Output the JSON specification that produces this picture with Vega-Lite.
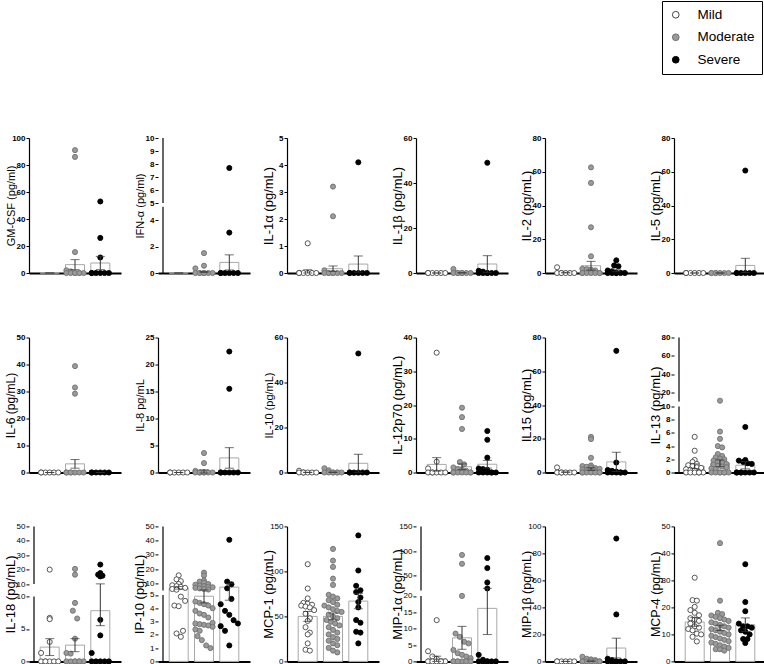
{
"$schema":"https://vega.github.io/schema/vega-lite/v6.json",
"padding":{"left":3,"top":0,"right":0,"bottom":0},
"config":{
 "font":"Liberation Sans",
 "view":{"stroke":null},
 "axis":{"grid":false},
 "axisX":{"domainColor":"black","domainWidth":2,"ticks":false,"labels":false},
 "axisY":{"domainColor":"black","domainWidth":1.2,"tickColor":"black","tickSize":3,"tickWidth":1,"labelFontSize":8,"labelFontWeight":"bold","labelColor":"black","labelPadding":1,"labelOverlap":false,"titleFontWeight":"normal","titleColor":"black","titleX":-15,"titleY":67.5,"titleAngle":270,"titleAlign":"center","titleBaseline":"alphabetic","titleFontSize":12},
 "legend":{"orient":"none","legendX":633,"legendY":-137,"strokeColor":"black","padding":7,"labelFontSize":13.5,"labelColor":"black","symbolSize":45,"symbolStrokeWidth":1,"rowPadding":7.5,"labelOffset":15,"symbolType":"circle"}
},
"datasets":{"d":[
{"k":1,"g":1,"v":0,"e":0},{"k":1,"g":2,"v":6.2,"e":3.7},{"k":1,"g":3,"v":7.4,"e":4.9},
{"k":2,"g":1,"v":0,"e":0},{"k":2,"g":2,"v":0.07,"e":0.04},{"k":2,"g":3,"v":0.8,"e":0.57},
{"k":3,"g":1,"v":0.06,"e":0.06},{"k":3,"g":2,"v":0.16,"e":0.1},{"k":3,"g":3,"v":0.33,"e":0.3},
{"k":4,"g":1,"v":0,"e":0},{"k":4,"g":2,"v":0.06,"e":0.05},{"k":4,"g":3,"v":4.0,"e":3.7},
{"k":5,"g":1,"v":0.2,"e":0.2},{"k":5,"g":2,"v":4.3,"e":2.6},{"k":5,"g":3,"v":1.5,"e":0.75},
{"k":6,"g":1,"v":0,"e":0},{"k":6,"g":2,"v":0,"e":0},{"k":6,"g":3,"v":4.5,"e":4.2},
{"k":7,"g":1,"v":0,"e":0},{"k":7,"g":2,"v":3.2,"e":1.6},{"k":7,"g":3,"v":0,"e":0},
{"k":8,"g":1,"v":0,"e":0},{"k":8,"g":2,"v":0.2,"e":0.3},{"k":8,"g":3,"v":2.7,"e":1.9},
{"k":9,"g":1,"v":0.05,"e":0.05},{"k":9,"g":2,"v":0.1,"e":0.06},{"k":9,"g":3,"v":4.1,"e":4.0},
{"k":10,"g":1,"v":2.4,"e":2.0},{"k":10,"g":2,"v":1.7,"e":0.85},{"k":10,"g":3,"v":2.45,"e":1.15},
{"k":11,"g":1,"v":0.2,"e":0.17},{"k":11,"g":2,"v":2.1,"e":0.8},{"k":11,"g":3,"v":6.3,"e":5.7},
{"k":12,"g":1,"v":0.96,"e":0.35},{"k":12,"g":2,"v":1.4,"e":0.5},{"k":12,"g":3,"v":1.1,"e":0.55},
{"k":13,"g":1,"v":2.2,"e":1.3},{"k":13,"g":2,"v":2.5,"e":1.0},{"k":13,"g":3,"v":7.8,"e":2.3},
{"k":14,"g":1,"v":6.8,"e":0.9},{"k":14,"g":2,"v":4.9,"e":0.5},{"k":14,"g":3,"v":7.3,"e":2.7},
{"k":15,"g":1,"v":50,"e":5.5},{"k":15,"g":2,"v":50,"e":3.8},{"k":15,"g":3,"v":67,"e":8.5},
{"k":16,"g":1,"v":0.8,"e":0.8},{"k":16,"g":2,"v":7.2,"e":3.5},{"k":16,"g":3,"v":16.2,"e":8.0},
{"k":17,"g":1,"v":0,"e":0},{"k":17,"g":2,"v":0.2,"e":0.1},{"k":17,"g":3,"v":9.9,"e":7.3},
{"k":18,"g":1,"v":14.6,"e":1.6},{"k":18,"g":2,"v":12.4,"e":1.0},{"k":18,"g":3,"v":13.6,"e":2.5},

{"k":1,"g":2,"v":91},{"k":1,"g":2,"v":86},{"k":1,"g":2,"v":15.5},{"k":1,"g":2,"v":2},{"k":1,"g":2,"v":1.2},{"k":1,"g":2,"v":0},{"k":1,"g":2,"v":0},{"k":1,"g":2,"v":0},{"k":1,"g":2,"v":0},{"k":1,"g":2,"v":0},{"k":1,"g":2,"v":0},{"k":1,"g":2,"v":0},
{"k":1,"g":3,"v":53},{"k":1,"g":3,"v":26},{"k":1,"g":3,"v":11.5},{"k":1,"g":3,"v":0},{"k":1,"g":3,"v":0},{"k":1,"g":3,"v":0},{"k":1,"g":3,"v":0},{"k":1,"g":3,"v":0},{"k":1,"g":3,"v":0},

{"k":2,"g":2,"v":1.5},{"k":2,"g":2,"v":0.55},{"k":2,"g":2,"v":0.35},{"k":2,"g":2,"v":0},{"k":2,"g":2,"v":0},{"k":2,"g":2,"v":0},{"k":2,"g":2,"v":0},{"k":2,"g":2,"v":0},{"k":2,"g":2,"v":0},{"k":2,"g":2,"v":0},
{"k":2,"g":3,"v":7.7},{"k":2,"g":3,"v":3.05},{"k":2,"g":3,"v":0},{"k":2,"g":3,"v":0},{"k":2,"g":3,"v":0},{"k":2,"g":3,"v":0},{"k":2,"g":3,"v":0},{"k":2,"g":3,"v":0},

{"k":3,"g":1,"v":1.1},{"k":3,"g":1,"v":0},{"k":3,"g":1,"v":0},{"k":3,"g":1,"v":0},{"k":3,"g":1,"v":0},{"k":3,"g":1,"v":0},{"k":3,"g":1,"v":0},
{"k":3,"g":2,"v":3.2},{"k":3,"g":2,"v":2.1},{"k":3,"g":2,"v":0.1},{"k":3,"g":2,"v":0},{"k":3,"g":2,"v":0},{"k":3,"g":2,"v":0},{"k":3,"g":2,"v":0},{"k":3,"g":2,"v":0},{"k":3,"g":2,"v":0},{"k":3,"g":2,"v":0},
{"k":3,"g":3,"v":4.1},{"k":3,"g":3,"v":0},{"k":3,"g":3,"v":0},{"k":3,"g":3,"v":0},{"k":3,"g":3,"v":0},{"k":3,"g":3,"v":0},{"k":3,"g":3,"v":0},

{"k":4,"g":1,"v":0},{"k":4,"g":1,"v":0},{"k":4,"g":1,"v":0},{"k":4,"g":1,"v":0},{"k":4,"g":1,"v":0},{"k":4,"g":1,"v":0},
{"k":4,"g":2,"v":1.8},{"k":4,"g":2,"v":0},{"k":4,"g":2,"v":0},{"k":4,"g":2,"v":0},{"k":4,"g":2,"v":0},{"k":4,"g":2,"v":0},{"k":4,"g":2,"v":0},{"k":4,"g":2,"v":0},
{"k":4,"g":3,"v":49},{"k":4,"g":3,"v":1},{"k":4,"g":3,"v":0.6},{"k":4,"g":3,"v":0},{"k":4,"g":3,"v":0},{"k":4,"g":3,"v":0},{"k":4,"g":3,"v":0},{"k":4,"g":3,"v":0},{"k":4,"g":3,"v":0},

{"k":5,"g":1,"v":3.4},{"k":5,"g":1,"v":0},{"k":5,"g":1,"v":0},{"k":5,"g":1,"v":0},{"k":5,"g":1,"v":0},{"k":5,"g":1,"v":0},{"k":5,"g":1,"v":0},
{"k":5,"g":2,"v":62.6},{"k":5,"g":2,"v":53.4},{"k":5,"g":2,"v":27.1},{"k":5,"g":2,"v":9.9},{"k":5,"g":2,"v":2.5},{"k":5,"g":2,"v":2.3},{"k":5,"g":2,"v":2},{"k":5,"g":2,"v":1.5},{"k":5,"g":2,"v":0},{"k":5,"g":2,"v":0},{"k":5,"g":2,"v":0},{"k":5,"g":2,"v":0},{"k":5,"g":2,"v":0},{"k":5,"g":2,"v":0},{"k":5,"g":2,"v":0},
{"k":5,"g":3,"v":7.5},{"k":5,"g":3,"v":4.5},{"k":5,"g":3,"v":4.0},{"k":5,"g":3,"v":1.5},{"k":5,"g":3,"v":1},{"k":5,"g":3,"v":0},{"k":5,"g":3,"v":0},{"k":5,"g":3,"v":0},{"k":5,"g":3,"v":0},{"k":5,"g":3,"v":0},{"k":5,"g":3,"v":0},

{"k":6,"g":1,"v":0},{"k":6,"g":1,"v":0},{"k":6,"g":1,"v":0},{"k":6,"g":1,"v":0},{"k":6,"g":1,"v":0},{"k":6,"g":1,"v":0},
{"k":6,"g":2,"v":0},{"k":6,"g":2,"v":0},{"k":6,"g":2,"v":0},{"k":6,"g":2,"v":0},{"k":6,"g":2,"v":0},{"k":6,"g":2,"v":0},{"k":6,"g":2,"v":0},
{"k":6,"g":3,"v":60.7},{"k":6,"g":3,"v":0},{"k":6,"g":3,"v":0},{"k":6,"g":3,"v":0},{"k":6,"g":3,"v":0},{"k":6,"g":3,"v":0},{"k":6,"g":3,"v":0},

{"k":7,"g":1,"v":0},{"k":7,"g":1,"v":0},{"k":7,"g":1,"v":0},{"k":7,"g":1,"v":0},{"k":7,"g":1,"v":0},{"k":7,"g":1,"v":0},
{"k":7,"g":2,"v":39.4},{"k":7,"g":2,"v":31.5},{"k":7,"g":2,"v":29.2},{"k":7,"g":2,"v":0},{"k":7,"g":2,"v":0},{"k":7,"g":2,"v":0},{"k":7,"g":2,"v":0},{"k":7,"g":2,"v":0},{"k":7,"g":2,"v":0},{"k":7,"g":2,"v":0},
{"k":7,"g":3,"v":0},{"k":7,"g":3,"v":0},{"k":7,"g":3,"v":0},{"k":7,"g":3,"v":0},{"k":7,"g":3,"v":0},{"k":7,"g":3,"v":0},

{"k":8,"g":1,"v":0},{"k":8,"g":1,"v":0},{"k":8,"g":1,"v":0},{"k":8,"g":1,"v":0},{"k":8,"g":1,"v":0},{"k":8,"g":1,"v":0},
{"k":8,"g":2,"v":3.6},{"k":8,"g":2,"v":1.74},{"k":8,"g":2,"v":0.3},{"k":8,"g":2,"v":0},{"k":8,"g":2,"v":0},{"k":8,"g":2,"v":0},{"k":8,"g":2,"v":0},{"k":8,"g":2,"v":0},{"k":8,"g":2,"v":0},{"k":8,"g":2,"v":0},
{"k":8,"g":3,"v":22.4},{"k":8,"g":3,"v":15.5},{"k":8,"g":3,"v":0},{"k":8,"g":3,"v":0},{"k":8,"g":3,"v":0},{"k":8,"g":3,"v":0},{"k":8,"g":3,"v":0},{"k":8,"g":3,"v":0},

{"k":9,"g":1,"v":0.8},{"k":9,"g":1,"v":0},{"k":9,"g":1,"v":0},{"k":9,"g":1,"v":0},{"k":9,"g":1,"v":0},{"k":9,"g":1,"v":0},{"k":9,"g":1,"v":0},
{"k":9,"g":2,"v":1.9},{"k":9,"g":2,"v":1.0},{"k":9,"g":2,"v":0},{"k":9,"g":2,"v":0},{"k":9,"g":2,"v":0},{"k":9,"g":2,"v":0},{"k":9,"g":2,"v":0},{"k":9,"g":2,"v":0},{"k":9,"g":2,"v":0},
{"k":9,"g":3,"v":52.9},{"k":9,"g":3,"v":0},{"k":9,"g":3,"v":0},{"k":9,"g":3,"v":0},{"k":9,"g":3,"v":0},{"k":9,"g":3,"v":0},{"k":9,"g":3,"v":0},

{"k":10,"g":1,"v":35.5},{"k":10,"g":1,"v":3.2},{"k":10,"g":1,"v":1.2},{"k":10,"g":1,"v":0},{"k":10,"g":1,"v":0},{"k":10,"g":1,"v":0},{"k":10,"g":1,"v":0},{"k":10,"g":1,"v":0},{"k":10,"g":1,"v":0},
{"k":10,"g":2,"v":19.2},{"k":10,"g":2,"v":16.4},{"k":10,"g":2,"v":12.9},{"k":10,"g":2,"v":3.1},{"k":10,"g":2,"v":2.4},{"k":10,"g":2,"v":1.5},{"k":10,"g":2,"v":1.0},{"k":10,"g":2,"v":0.8},{"k":10,"g":2,"v":0.5},{"k":10,"g":2,"v":0},{"k":10,"g":2,"v":0},{"k":10,"g":2,"v":0},{"k":10,"g":2,"v":0},{"k":10,"g":2,"v":0},{"k":10,"g":2,"v":0},{"k":10,"g":2,"v":0},
{"k":10,"g":3,"v":12.3},{"k":10,"g":3,"v":9.7},{"k":10,"g":3,"v":4.4},{"k":10,"g":3,"v":1.2},{"k":10,"g":3,"v":1.0},{"k":10,"g":3,"v":0.8},{"k":10,"g":3,"v":0},{"k":10,"g":3,"v":0},{"k":10,"g":3,"v":0},{"k":10,"g":3,"v":0},{"k":10,"g":3,"v":0},{"k":10,"g":3,"v":0},

{"k":11,"g":1,"v":3.0},{"k":11,"g":1,"v":0},{"k":11,"g":1,"v":0},{"k":11,"g":1,"v":0},{"k":11,"g":1,"v":0},{"k":11,"g":1,"v":0},{"k":11,"g":1,"v":0},
{"k":11,"g":2,"v":21.1},{"k":11,"g":2,"v":19.8},{"k":11,"g":2,"v":8.7},{"k":11,"g":2,"v":4.2},{"k":11,"g":2,"v":3.8},{"k":11,"g":2,"v":3.4},{"k":11,"g":2,"v":3.0},{"k":11,"g":2,"v":2.6},{"k":11,"g":2,"v":2.2},{"k":11,"g":2,"v":1.8},{"k":11,"g":2,"v":1.4},{"k":11,"g":2,"v":1.0},{"k":11,"g":2,"v":0.6},{"k":11,"g":2,"v":0},{"k":11,"g":2,"v":0},{"k":11,"g":2,"v":0},{"k":11,"g":2,"v":0},{"k":11,"g":2,"v":0},{"k":11,"g":2,"v":0},{"k":11,"g":2,"v":0},
{"k":11,"g":3,"v":72.1},{"k":11,"g":3,"v":5.9},{"k":11,"g":3,"v":1.5},{"k":11,"g":3,"v":1.0},{"k":11,"g":3,"v":0.5},{"k":11,"g":3,"v":0},{"k":11,"g":3,"v":0},{"k":11,"g":3,"v":0},{"k":11,"g":3,"v":0},{"k":11,"g":3,"v":0},{"k":11,"g":3,"v":0},

{"k":12,"g":1,"v":5.4},{"k":12,"g":1,"v":3.3},{"k":12,"g":1,"v":1.9},{"k":12,"g":1,"v":1.6},{"k":12,"g":1,"v":1.3},{"k":12,"g":1,"v":1.1},{"k":12,"g":1,"v":1.0},{"k":12,"g":1,"v":0.8},{"k":12,"g":1,"v":0.7},{"k":12,"g":1,"v":0.5},{"k":12,"g":1,"v":0.4},{"k":12,"g":1,"v":0.3},{"k":12,"g":1,"v":0},{"k":12,"g":1,"v":0},{"k":12,"g":1,"v":0},{"k":12,"g":1,"v":0},{"k":12,"g":1,"v":0},{"k":12,"g":1,"v":0},
{"k":12,"g":2,"v":10.9},{"k":12,"g":2,"v":6.2},{"k":12,"g":2,"v":5.1},{"k":12,"g":2,"v":4.0},{"k":12,"g":2,"v":3.8},{"k":12,"g":2,"v":2.8},{"k":12,"g":2,"v":2.5},{"k":12,"g":2,"v":2.3},{"k":12,"g":2,"v":2.1},{"k":12,"g":2,"v":2.0},{"k":12,"g":2,"v":1.8},{"k":12,"g":2,"v":1.7},{"k":12,"g":2,"v":1.5},{"k":12,"g":2,"v":1.3},{"k":12,"g":2,"v":1.2},{"k":12,"g":2,"v":1.0},{"k":12,"g":2,"v":0.9},{"k":12,"g":2,"v":0.8},{"k":12,"g":2,"v":0.6},{"k":12,"g":2,"v":0.5},{"k":12,"g":2,"v":0},{"k":12,"g":2,"v":0},{"k":12,"g":2,"v":0},{"k":12,"g":2,"v":0},{"k":12,"g":2,"v":0},{"k":12,"g":2,"v":0},{"k":12,"g":2,"v":0},
{"k":12,"g":3,"v":6.9},{"k":12,"g":3,"v":1.9},{"k":12,"g":3,"v":1.8},{"k":12,"g":3,"v":1.6},{"k":12,"g":3,"v":1.4},{"k":12,"g":3,"v":1.3},{"k":12,"g":3,"v":0},{"k":12,"g":3,"v":0},{"k":12,"g":3,"v":0},{"k":12,"g":3,"v":0},{"k":12,"g":3,"v":0},{"k":12,"g":3,"v":0},{"k":12,"g":3,"v":0},

{"k":13,"g":1,"v":20},{"k":13,"g":1,"v":6.7},{"k":13,"g":1,"v":6.5},{"k":13,"g":1,"v":3.0},{"k":13,"g":1,"v":1.3},{"k":13,"g":1,"v":0},{"k":13,"g":1,"v":0},{"k":13,"g":1,"v":0},{"k":13,"g":1,"v":0},{"k":13,"g":1,"v":0},{"k":13,"g":1,"v":0},
{"k":13,"g":2,"v":20.5},{"k":13,"g":2,"v":16.5},{"k":13,"g":2,"v":9.0},{"k":13,"g":2,"v":7.8},{"k":13,"g":2,"v":6.6},{"k":13,"g":2,"v":3.5},{"k":13,"g":2,"v":1.3},{"k":13,"g":2,"v":1.2},{"k":13,"g":2,"v":0},{"k":13,"g":2,"v":0},{"k":13,"g":2,"v":0},{"k":13,"g":2,"v":0},{"k":13,"g":2,"v":0},{"k":13,"g":2,"v":0},{"k":13,"g":2,"v":0},
{"k":13,"g":3,"v":23.5},{"k":13,"g":3,"v":17.6},{"k":13,"g":3,"v":16.5},{"k":13,"g":3,"v":15.8},{"k":13,"g":3,"v":15.3},{"k":13,"g":3,"v":6.4},{"k":13,"g":3,"v":4.0},{"k":13,"g":3,"v":1.3},{"k":13,"g":3,"v":0},{"k":13,"g":3,"v":0},{"k":13,"g":3,"v":0},{"k":13,"g":3,"v":0},{"k":13,"g":3,"v":0},

{"k":14,"g":1,"v":15.6},{"k":14,"g":1,"v":12.8},{"k":14,"g":1,"v":11.5},{"k":14,"g":1,"v":9.5},{"k":14,"g":1,"v":8.6},{"k":14,"g":1,"v":8.0},{"k":14,"g":1,"v":7.5},{"k":14,"g":1,"v":6.8},{"k":14,"g":1,"v":6.0},{"k":14,"g":1,"v":5.5},{"k":14,"g":1,"v":4.87},{"k":14,"g":1,"v":4.55},{"k":14,"g":1,"v":4.2},{"k":14,"g":1,"v":4.15},{"k":14,"g":1,"v":2.3},{"k":14,"g":1,"v":2.1},{"k":14,"g":1,"v":1.85},
{"k":14,"g":2,"v":17.5},{"k":14,"g":2,"v":15.5},{"k":14,"g":2,"v":12.0},{"k":14,"g":2,"v":11.2},{"k":14,"g":2,"v":10.5},{"k":14,"g":2,"v":9.5},{"k":14,"g":2,"v":9.0},{"k":14,"g":2,"v":8.5},{"k":14,"g":2,"v":8.0},{"k":14,"g":2,"v":7.6},{"k":14,"g":2,"v":7.2},{"k":14,"g":2,"v":6.8},{"k":14,"g":2,"v":6.4},{"k":14,"g":2,"v":6.0},{"k":14,"g":2,"v":5.6},{"k":14,"g":2,"v":4.5},{"k":14,"g":2,"v":4.4},{"k":14,"g":2,"v":4.3},{"k":14,"g":2,"v":4.2},{"k":14,"g":2,"v":4.0},{"k":14,"g":2,"v":3.8},{"k":14,"g":2,"v":3.6},{"k":14,"g":2,"v":3.5},{"k":14,"g":2,"v":3.3},{"k":14,"g":2,"v":2.9},{"k":14,"g":2,"v":2.85},{"k":14,"g":2,"v":2.8},{"k":14,"g":2,"v":2.75},{"k":14,"g":2,"v":2.7},{"k":14,"g":2,"v":2.6},{"k":14,"g":2,"v":2.4},{"k":14,"g":2,"v":2.3},{"k":14,"g":2,"v":1.9},{"k":14,"g":2,"v":1.6},{"k":14,"g":2,"v":1.2},{"k":14,"g":2,"v":1.0},
{"k":14,"g":3,"v":40.6},{"k":14,"g":3,"v":11.2},{"k":14,"g":3,"v":9.3},{"k":14,"g":3,"v":6.5},{"k":14,"g":3,"v":4.7},{"k":14,"g":3,"v":4.3},{"k":14,"g":3,"v":3.8},{"k":14,"g":3,"v":3.5},{"k":14,"g":3,"v":3.1},{"k":14,"g":3,"v":2.85},{"k":14,"g":3,"v":2.65},{"k":14,"g":3,"v":2.3},{"k":14,"g":3,"v":1.2},

{"k":15,"g":1,"v":108},{"k":15,"g":1,"v":81},{"k":15,"g":1,"v":70},{"k":15,"g":1,"v":65},{"k":15,"g":1,"v":64},{"k":15,"g":1,"v":63},{"k":15,"g":1,"v":62},{"k":15,"g":1,"v":61},{"k":15,"g":1,"v":60},{"k":15,"g":1,"v":57},{"k":15,"g":1,"v":53},{"k":15,"g":1,"v":48},{"k":15,"g":1,"v":45},{"k":15,"g":1,"v":38},{"k":15,"g":1,"v":32},{"k":15,"g":1,"v":30},{"k":15,"g":1,"v":20},{"k":15,"g":1,"v":13},{"k":15,"g":1,"v":12},
{"k":15,"g":2,"v":125},{"k":15,"g":2,"v":112},{"k":15,"g":2,"v":105},{"k":15,"g":2,"v":92},{"k":15,"g":2,"v":85},{"k":15,"g":2,"v":74},{"k":15,"g":2,"v":72},{"k":15,"g":2,"v":70},{"k":15,"g":2,"v":68},{"k":15,"g":2,"v":66},{"k":15,"g":2,"v":63},{"k":15,"g":2,"v":62},{"k":15,"g":2,"v":60},{"k":15,"g":2,"v":58},{"k":15,"g":2,"v":56},{"k":15,"g":2,"v":55},{"k":15,"g":2,"v":52},{"k":15,"g":2,"v":50},{"k":15,"g":2,"v":48},{"k":15,"g":2,"v":46},{"k":15,"g":2,"v":44},{"k":15,"g":2,"v":42},{"k":15,"g":2,"v":40},{"k":15,"g":2,"v":38},{"k":15,"g":2,"v":35},{"k":15,"g":2,"v":32},{"k":15,"g":2,"v":30},{"k":15,"g":2,"v":27},{"k":15,"g":2,"v":25},{"k":15,"g":2,"v":23},{"k":15,"g":2,"v":20},{"k":15,"g":2,"v":18},{"k":15,"g":2,"v":15},{"k":15,"g":2,"v":12},{"k":15,"g":2,"v":10},
{"k":15,"g":3,"v":140},{"k":15,"g":3,"v":101},{"k":15,"g":3,"v":84},{"k":15,"g":3,"v":79},{"k":15,"g":3,"v":77},{"k":15,"g":3,"v":71},{"k":15,"g":3,"v":66},{"k":15,"g":3,"v":60},{"k":15,"g":3,"v":46},{"k":15,"g":3,"v":43},{"k":15,"g":3,"v":33},{"k":15,"g":3,"v":32},{"k":15,"g":3,"v":20},

{"k":16,"g":1,"v":12.6},{"k":16,"g":1,"v":3.1},{"k":16,"g":1,"v":1.5},{"k":16,"g":1,"v":0.8},{"k":16,"g":1,"v":0},{"k":16,"g":1,"v":0},{"k":16,"g":1,"v":0},{"k":16,"g":1,"v":0},{"k":16,"g":1,"v":0},{"k":16,"g":1,"v":0},
{"k":16,"g":2,"v":92},{"k":16,"g":2,"v":74},{"k":16,"g":2,"v":20},{"k":16,"g":2,"v":8.5},{"k":16,"g":2,"v":7.5},{"k":16,"g":2,"v":6.0},{"k":16,"g":2,"v":5.5},{"k":16,"g":2,"v":3.5},{"k":16,"g":2,"v":2.5},{"k":16,"g":2,"v":2.0},{"k":16,"g":2,"v":1.5},{"k":16,"g":2,"v":1.0},{"k":16,"g":2,"v":0},{"k":16,"g":2,"v":0},{"k":16,"g":2,"v":0},{"k":16,"g":2,"v":0},{"k":16,"g":2,"v":0},{"k":16,"g":2,"v":0},{"k":16,"g":2,"v":0},
{"k":16,"g":3,"v":85.7},{"k":16,"g":3,"v":65.4},{"k":16,"g":3,"v":36.2},{"k":16,"g":3,"v":24},{"k":16,"g":3,"v":2.0},{"k":16,"g":3,"v":0.5},{"k":16,"g":3,"v":0},{"k":16,"g":3,"v":0},{"k":16,"g":3,"v":0},{"k":16,"g":3,"v":0},{"k":16,"g":3,"v":0},{"k":16,"g":3,"v":0},

{"k":17,"g":1,"v":0},{"k":17,"g":1,"v":0},{"k":17,"g":1,"v":0},{"k":17,"g":1,"v":0},{"k":17,"g":1,"v":0},{"k":17,"g":1,"v":0},
{"k":17,"g":2,"v":3.5},{"k":17,"g":2,"v":2},{"k":17,"g":2,"v":1.5},{"k":17,"g":2,"v":1},{"k":17,"g":2,"v":0},{"k":17,"g":2,"v":0},{"k":17,"g":2,"v":0},{"k":17,"g":2,"v":0},{"k":17,"g":2,"v":0},{"k":17,"g":2,"v":0},{"k":17,"g":2,"v":0},
{"k":17,"g":3,"v":91},{"k":17,"g":3,"v":34.8},{"k":17,"g":3,"v":2},{"k":17,"g":3,"v":1},{"k":17,"g":3,"v":0},{"k":17,"g":3,"v":0},{"k":17,"g":3,"v":0},{"k":17,"g":3,"v":0},{"k":17,"g":3,"v":0},{"k":17,"g":3,"v":0},

{"k":18,"g":1,"v":31},{"k":18,"g":1,"v":22.7},{"k":18,"g":1,"v":22.5},{"k":18,"g":1,"v":20.2},{"k":18,"g":1,"v":19},{"k":18,"g":1,"v":18},{"k":18,"g":1,"v":17.1},{"k":18,"g":1,"v":16},{"k":18,"g":1,"v":15.5},{"k":18,"g":1,"v":15},{"k":18,"g":1,"v":14},{"k":18,"g":1,"v":13},{"k":18,"g":1,"v":12.5},{"k":18,"g":1,"v":12},{"k":18,"g":1,"v":11.5},{"k":18,"g":1,"v":10.3},{"k":18,"g":1,"v":10},{"k":18,"g":1,"v":9.1},{"k":18,"g":1,"v":7.4},
{"k":18,"g":2,"v":43.8},{"k":18,"g":2,"v":22.5},{"k":18,"g":2,"v":18},{"k":18,"g":2,"v":17.5},{"k":18,"g":2,"v":17},{"k":18,"g":2,"v":16.5},{"k":18,"g":2,"v":16},{"k":18,"g":2,"v":15.5},{"k":18,"g":2,"v":15},{"k":18,"g":2,"v":14.5},{"k":18,"g":2,"v":14},{"k":18,"g":2,"v":13.5},{"k":18,"g":2,"v":13},{"k":18,"g":2,"v":12.5},{"k":18,"g":2,"v":12},{"k":18,"g":2,"v":11.5},{"k":18,"g":2,"v":11},{"k":18,"g":2,"v":10.5},{"k":18,"g":2,"v":10},{"k":18,"g":2,"v":9.5},{"k":18,"g":2,"v":9},{"k":18,"g":2,"v":8.5},{"k":18,"g":2,"v":8},{"k":18,"g":2,"v":7.5},{"k":18,"g":2,"v":7},{"k":18,"g":2,"v":6.5},{"k":18,"g":2,"v":6},{"k":18,"g":2,"v":5.5},{"k":18,"g":2,"v":5},{"k":18,"g":2,"v":4.5},{"k":18,"g":2,"v":4.5},{"k":18,"g":2,"v":4},
{"k":18,"g":3,"v":36},{"k":18,"g":3,"v":22},{"k":18,"g":3,"v":18.6},{"k":18,"g":3,"v":14},{"k":18,"g":3,"v":13},{"k":18,"g":3,"v":13},{"k":18,"g":3,"v":12.5},{"k":18,"g":3,"v":11.5},{"k":18,"g":3,"v":11},{"k":18,"g":3,"v":10},{"k":18,"g":3,"v":8.3},{"k":18,"g":3,"v":8.3},{"k":18,"g":3,"v":6.8}
]},
"data":{"name":"d"},
"transform":[
 {"calculate":"['Mild','Moderate','Severe'][datum.g-1]","as":"s"},
 {"joinaggregate":[{"op":"max","field":"v","as":"mx"}],"groupby":["k"]},
 {"calculate":"datum.mx > 0 ? floor(datum.v * 18 / datum.mx) : 0","as":"b"},
 {"window":[{"op":"row_number","as":"r"},{"op":"count","as":"c"}],"groupby":["k","g","b","e"],"frame":[null,null]},
 {"calculate":"datum.g + (datum.c > 1 ? ((datum.r - 1) % 5 - (min(datum.c,5) - 1) / 2) * 0.17 : 0)","as":"x"}
],
"spacing":55.5,
"vconcat":[
{"hconcat":[
 {"width":92,"height":135,"transform":[{"filter":"datum.k==1"}],"encoding":{"x":{"field":"x","type":"quantitative","scale":{"domain":[0.38,3.62]},"title":null},"y":{"field":"v","type":"quantitative","scale":{"domain":[0,100]},"axis":{"values":[0,20,40,60,80,100],"titleFontSize":11},"title":"GM-CSF (pg/ml)"}},
  "layer":[{"transform":[{"filter":"datum.e!=null"}],"mark":{"type":"bar","orient":"vertical","size":19,"fill":"white","stroke":"#a8a8a8","strokeWidth":1}},{"transform":[{"filter":"datum.e==null"}],"mark":{"type":"point","shape":"circle","filled":true,"size":26,"strokeWidth":0.9,"opacity":1},"encoding":{"fill":{"field":"s","type":"nominal","title":null,"scale":{"domain":["Mild","Moderate","Severe"],"range":["white","#9a9a9a","black"]}},"stroke":{"field":"s","type":"nominal","title":null,"scale":{"domain":["Mild","Moderate","Severe"],"range":["#444444","#707070","black"]}}}},{"transform":[{"filter":"datum.e!=null"}],"mark":{"type":"errorbar","ticks":true,"size":9,"thickness":1,"color":"#333333"},"encoding":{"yError":{"field":"e"}}}]},
 {"width":92,"height":135,"transform":[{"filter":"datum.k==2"}],"encoding":{"x":{"field":"x","type":"quantitative","scale":{"domain":[0.38,3.62]},"title":null},"y":{"field":"v","type":"quantitative","scale":{"domain":[0,5,5.01,10],"range":[135,68.75,65,0]},"axis":{"values":[0,2,4,5.01,6,7,8,9,10],"format":".0f","domain":false,"titleFontSize":11},"title":"IFN-α (pg/ml)"}},
  "layer":[{"transform":[{"filter":"datum.e!=null && datum.g==1"}],"mark":{"type":"rule","color":"black","strokeWidth":1.2},"encoding":{"x":{"datum":0.38},"y":{"datum":0},"y2":{"datum":5}}},{"transform":[{"filter":"datum.e!=null && datum.g==1"}],"mark":{"type":"rule","color":"black","strokeWidth":1.2},"encoding":{"x":{"datum":0.38},"y":{"datum":5.01},"y2":{"datum":10}}},{"transform":[{"filter":"datum.e!=null"}],"mark":{"type":"bar","orient":"vertical","size":19,"fill":"white","stroke":"#a8a8a8","strokeWidth":1}},{"transform":[{"filter":"datum.e==null"}],"mark":{"type":"point","shape":"circle","filled":true,"size":26,"strokeWidth":0.9,"opacity":1},"encoding":{"fill":{"field":"s","type":"nominal","title":null,"scale":{"domain":["Mild","Moderate","Severe"],"range":["white","#9a9a9a","black"]}},"stroke":{"field":"s","type":"nominal","title":null,"scale":{"domain":["Mild","Moderate","Severe"],"range":["#444444","#707070","black"]}}}},{"transform":[{"filter":"datum.e!=null"}],"mark":{"type":"errorbar","ticks":true,"size":9,"thickness":1,"color":"#333333"},"encoding":{"yError":{"field":"e"}}}]},
 {"width":92,"height":135,"transform":[{"filter":"datum.k==3"}],"encoding":{"x":{"field":"x","type":"quantitative","scale":{"domain":[0.38,3.62]},"title":null},"y":{"field":"v","type":"quantitative","scale":{"domain":[0,5]},"axis":{"values":[0,1,2,3,4,5],"titleFontSize":13},"title":"IL-1α (pg/mL)"}},
  "layer":[{"transform":[{"filter":"datum.e!=null"}],"mark":{"type":"bar","orient":"vertical","size":19,"fill":"white","stroke":"#a8a8a8","strokeWidth":1}},{"transform":[{"filter":"datum.e==null"}],"mark":{"type":"point","shape":"circle","filled":true,"size":26,"strokeWidth":0.9,"opacity":1},"encoding":{"fill":{"field":"s","type":"nominal","title":null,"scale":{"domain":["Mild","Moderate","Severe"],"range":["white","#9a9a9a","black"]}},"stroke":{"field":"s","type":"nominal","title":null,"scale":{"domain":["Mild","Moderate","Severe"],"range":["#444444","#707070","black"]}}}},{"transform":[{"filter":"datum.e!=null"}],"mark":{"type":"errorbar","ticks":true,"size":9,"thickness":1,"color":"#333333"},"encoding":{"yError":{"field":"e"}}}]},
 {"width":92,"height":135,"transform":[{"filter":"datum.k==4"}],"encoding":{"x":{"field":"x","type":"quantitative","scale":{"domain":[0.38,3.62]},"title":null},"y":{"field":"v","type":"quantitative","scale":{"domain":[0,60]},"axis":{"values":[0,20,40,60],"titleFontSize":13},"title":"IL-1β (pg/mL)"}},
  "layer":[{"transform":[{"filter":"datum.e!=null"}],"mark":{"type":"bar","orient":"vertical","size":19,"fill":"white","stroke":"#a8a8a8","strokeWidth":1}},{"transform":[{"filter":"datum.e==null"}],"mark":{"type":"point","shape":"circle","filled":true,"size":26,"strokeWidth":0.9,"opacity":1},"encoding":{"fill":{"field":"s","type":"nominal","title":null,"scale":{"domain":["Mild","Moderate","Severe"],"range":["white","#9a9a9a","black"]}},"stroke":{"field":"s","type":"nominal","title":null,"scale":{"domain":["Mild","Moderate","Severe"],"range":["#444444","#707070","black"]}}}},{"transform":[{"filter":"datum.e!=null"}],"mark":{"type":"errorbar","ticks":true,"size":9,"thickness":1,"color":"#333333"},"encoding":{"yError":{"field":"e"}}}]},
 {"width":92,"height":135,"transform":[{"filter":"datum.k==5"}],"encoding":{"x":{"field":"x","type":"quantitative","scale":{"domain":[0.38,3.62]},"title":null},"y":{"field":"v","type":"quantitative","scale":{"domain":[0,80]},"axis":{"values":[0,20,40,60,80],"titleFontSize":13},"title":"IL-2 (pg/mL)"}},
  "layer":[{"transform":[{"filter":"datum.e!=null"}],"mark":{"type":"bar","orient":"vertical","size":19,"fill":"white","stroke":"#a8a8a8","strokeWidth":1}},{"transform":[{"filter":"datum.e==null"}],"mark":{"type":"point","shape":"circle","filled":true,"size":26,"strokeWidth":0.9,"opacity":1},"encoding":{"fill":{"field":"s","type":"nominal","title":null,"scale":{"domain":["Mild","Moderate","Severe"],"range":["white","#9a9a9a","black"]}},"stroke":{"field":"s","type":"nominal","title":null,"scale":{"domain":["Mild","Moderate","Severe"],"range":["#444444","#707070","black"]}}}},{"transform":[{"filter":"datum.e!=null"}],"mark":{"type":"errorbar","ticks":true,"size":9,"thickness":1,"color":"#333333"},"encoding":{"yError":{"field":"e"}}}]},
 {"width":92,"height":135,"transform":[{"filter":"datum.k==6"}],"encoding":{"x":{"field":"x","type":"quantitative","scale":{"domain":[0.38,3.62]},"title":null},"y":{"field":"v","type":"quantitative","scale":{"domain":[0,80]},"axis":{"values":[0,20,40,60,80],"titleFontSize":13},"title":"IL-5 (pg/mL)"}},
  "layer":[{"transform":[{"filter":"datum.e!=null"}],"mark":{"type":"bar","orient":"vertical","size":19,"fill":"white","stroke":"#a8a8a8","strokeWidth":1}},{"transform":[{"filter":"datum.e==null"}],"mark":{"type":"point","shape":"circle","filled":true,"size":26,"strokeWidth":0.9,"opacity":1},"encoding":{"fill":{"field":"s","type":"nominal","title":null,"scale":{"domain":["Mild","Moderate","Severe"],"range":["white","#9a9a9a","black"]}},"stroke":{"field":"s","type":"nominal","title":null,"scale":{"domain":["Mild","Moderate","Severe"],"range":["#444444","#707070","black"]}}}},{"transform":[{"filter":"datum.e!=null"}],"mark":{"type":"errorbar","ticks":true,"size":9,"thickness":1,"color":"#333333"},"encoding":{"yError":{"field":"e"}}}]}
],"spacing":37,"bounds":"flush"},
{"vconcat":[
{"hconcat":[
 {"width":92,"height":135,"transform":[{"filter":"datum.k==7"}],"encoding":{"x":{"field":"x","type":"quantitative","scale":{"domain":[0.38,3.62]},"title":null},"y":{"field":"v","type":"quantitative","scale":{"domain":[0,50]},"axis":{"values":[0,10,20,30,40,50],"titleFontSize":12},"title":"IL-6 (pg/mL)"}},
  "layer":[{"transform":[{"filter":"datum.e!=null"}],"mark":{"type":"bar","orient":"vertical","size":19,"fill":"white","stroke":"#a8a8a8","strokeWidth":1}},{"transform":[{"filter":"datum.e==null"}],"mark":{"type":"point","shape":"circle","filled":true,"size":26,"strokeWidth":0.9,"opacity":1},"encoding":{"fill":{"field":"s","type":"nominal","title":null,"scale":{"domain":["Mild","Moderate","Severe"],"range":["white","#9a9a9a","black"]}},"stroke":{"field":"s","type":"nominal","title":null,"scale":{"domain":["Mild","Moderate","Severe"],"range":["#444444","#707070","black"]}}}},{"transform":[{"filter":"datum.e!=null"}],"mark":{"type":"errorbar","ticks":true,"size":9,"thickness":1,"color":"#333333"},"encoding":{"yError":{"field":"e"}}}]},
 {"width":92,"height":135,"transform":[{"filter":"datum.k==8"}],"encoding":{"x":{"field":"x","type":"quantitative","scale":{"domain":[0.38,3.62]},"title":null},"y":{"field":"v","type":"quantitative","scale":{"domain":[0,25]},"axis":{"values":[0,5,10,15,20,25],"titleFontSize":11},"title":"IL-8 pg/mL"}},
  "layer":[{"transform":[{"filter":"datum.e!=null"}],"mark":{"type":"bar","orient":"vertical","size":19,"fill":"white","stroke":"#a8a8a8","strokeWidth":1}},{"transform":[{"filter":"datum.e==null"}],"mark":{"type":"point","shape":"circle","filled":true,"size":26,"strokeWidth":0.9,"opacity":1},"encoding":{"fill":{"field":"s","type":"nominal","title":null,"scale":{"domain":["Mild","Moderate","Severe"],"range":["white","#9a9a9a","black"]}},"stroke":{"field":"s","type":"nominal","title":null,"scale":{"domain":["Mild","Moderate","Severe"],"range":["#444444","#707070","black"]}}}},{"transform":[{"filter":"datum.e!=null"}],"mark":{"type":"errorbar","ticks":true,"size":9,"thickness":1,"color":"#333333"},"encoding":{"yError":{"field":"e"}}}]},
 {"width":92,"height":135,"transform":[{"filter":"datum.k==9"}],"encoding":{"x":{"field":"x","type":"quantitative","scale":{"domain":[0.38,3.62]},"title":null},"y":{"field":"v","type":"quantitative","scale":{"domain":[0,60]},"axis":{"values":[0,20,40,60],"titleFontSize":11},"title":"IL-10 (pg/mL)"}},
  "layer":[{"transform":[{"filter":"datum.e!=null"}],"mark":{"type":"bar","orient":"vertical","size":19,"fill":"white","stroke":"#a8a8a8","strokeWidth":1}},{"transform":[{"filter":"datum.e==null"}],"mark":{"type":"point","shape":"circle","filled":true,"size":26,"strokeWidth":0.9,"opacity":1},"encoding":{"fill":{"field":"s","type":"nominal","title":null,"scale":{"domain":["Mild","Moderate","Severe"],"range":["white","#9a9a9a","black"]}},"stroke":{"field":"s","type":"nominal","title":null,"scale":{"domain":["Mild","Moderate","Severe"],"range":["#444444","#707070","black"]}}}},{"transform":[{"filter":"datum.e!=null"}],"mark":{"type":"errorbar","ticks":true,"size":9,"thickness":1,"color":"#333333"},"encoding":{"yError":{"field":"e"}}}]},
 {"width":92,"height":135,"transform":[{"filter":"datum.k==10"}],"encoding":{"x":{"field":"x","type":"quantitative","scale":{"domain":[0.38,3.62]},"title":null},"y":{"field":"v","type":"quantitative","scale":{"domain":[0,40]},"axis":{"values":[0,10,20,30,40],"titleFontSize":13},"title":"IL-12p70 (pg/mL)"}},
  "layer":[{"transform":[{"filter":"datum.e!=null"}],"mark":{"type":"bar","orient":"vertical","size":19,"fill":"white","stroke":"#a8a8a8","strokeWidth":1}},{"transform":[{"filter":"datum.e==null"}],"mark":{"type":"point","shape":"circle","filled":true,"size":26,"strokeWidth":0.9,"opacity":1},"encoding":{"fill":{"field":"s","type":"nominal","title":null,"scale":{"domain":["Mild","Moderate","Severe"],"range":["white","#9a9a9a","black"]}},"stroke":{"field":"s","type":"nominal","title":null,"scale":{"domain":["Mild","Moderate","Severe"],"range":["#444444","#707070","black"]}}}},{"transform":[{"filter":"datum.e!=null"}],"mark":{"type":"errorbar","ticks":true,"size":9,"thickness":1,"color":"#333333"},"encoding":{"yError":{"field":"e"}}}]},
 {"width":92,"height":135,"transform":[{"filter":"datum.k==11"}],"encoding":{"x":{"field":"x","type":"quantitative","scale":{"domain":[0.38,3.62]},"title":null},"y":{"field":"v","type":"quantitative","scale":{"domain":[0,80]},"axis":{"values":[0,20,40,60,80],"titleFontSize":13},"title":"IL15 (pg/mL)"}},
  "layer":[{"transform":[{"filter":"datum.e!=null"}],"mark":{"type":"bar","orient":"vertical","size":19,"fill":"white","stroke":"#a8a8a8","strokeWidth":1}},{"transform":[{"filter":"datum.e==null"}],"mark":{"type":"point","shape":"circle","filled":true,"size":26,"strokeWidth":0.9,"opacity":1},"encoding":{"fill":{"field":"s","type":"nominal","title":null,"scale":{"domain":["Mild","Moderate","Severe"],"range":["white","#9a9a9a","black"]}},"stroke":{"field":"s","type":"nominal","title":null,"scale":{"domain":["Mild","Moderate","Severe"],"range":["#444444","#707070","black"]}}}},{"transform":[{"filter":"datum.e!=null"}],"mark":{"type":"errorbar","ticks":true,"size":9,"thickness":1,"color":"#333333"},"encoding":{"yError":{"field":"e"}}}]},
 {"width":92,"height":135,"transform":[{"filter":"datum.k==12"}],"encoding":{"x":{"field":"x","type":"quantitative","scale":{"domain":[0.38,3.62]},"title":null},"y":{"field":"v","type":"quantitative","scale":{"domain":[0,10,10.01,80],"range":[135,69,64,0]},"axis":{"values":[0,2,4,6,8,10,20,40,60,80],"domain":false,"titleFontSize":13},"title":"IL-13 (pg/mL)"}},
  "layer":[{"transform":[{"filter":"datum.e!=null && datum.g==1"}],"mark":{"type":"rule","color":"black","strokeWidth":1.2},"encoding":{"x":{"datum":0.38},"y":{"datum":0},"y2":{"datum":10}}},{"transform":[{"filter":"datum.e!=null && datum.g==1"}],"mark":{"type":"rule","color":"black","strokeWidth":1.2},"encoding":{"x":{"datum":0.38},"y":{"datum":10.01},"y2":{"datum":80}}},{"transform":[{"filter":"datum.e!=null"}],"mark":{"type":"bar","orient":"vertical","size":19,"fill":"white","stroke":"#a8a8a8","strokeWidth":1}},{"transform":[{"filter":"datum.e==null"}],"mark":{"type":"point","shape":"circle","filled":true,"size":26,"strokeWidth":0.9,"opacity":1},"encoding":{"fill":{"field":"s","type":"nominal","title":null,"scale":{"domain":["Mild","Moderate","Severe"],"range":["white","#9a9a9a","black"]}},"stroke":{"field":"s","type":"nominal","title":null,"scale":{"domain":["Mild","Moderate","Severe"],"range":["#444444","#707070","black"]}}}},{"transform":[{"filter":"datum.e!=null"}],"mark":{"type":"errorbar","ticks":true,"size":9,"thickness":1,"color":"#333333"},"encoding":{"yError":{"field":"e"}}}]}
],"spacing":37,"bounds":"flush"},
{"hconcat":[
 {"width":92,"height":135,"transform":[{"filter":"datum.k==13"}],"encoding":{"x":{"field":"x","type":"quantitative","scale":{"domain":[0.38,3.62]},"title":null},"y":{"field":"v","type":"quantitative","scale":{"domain":[0,10,10.01,50],"range":[135,70,57.6,0]},"axis":{"values":[0,5,10,10.01,20,30,40,50],"format":".0f","domain":false,"titleFontSize":13,"labelFontWeight":"normal"},"title":"IL-18 (pg/mL)"}},
  "layer":[{"transform":[{"filter":"datum.e!=null && datum.g==1"}],"mark":{"type":"rule","color":"black","strokeWidth":1.2},"encoding":{"x":{"datum":0.38},"y":{"datum":0},"y2":{"datum":10}}},{"transform":[{"filter":"datum.e!=null && datum.g==1"}],"mark":{"type":"rule","color":"black","strokeWidth":1.2},"encoding":{"x":{"datum":0.38},"y":{"datum":10.01},"y2":{"datum":50}}},{"transform":[{"filter":"datum.e!=null"}],"mark":{"type":"bar","orient":"vertical","size":19,"fill":"white","stroke":"#a8a8a8","strokeWidth":1}},{"transform":[{"filter":"datum.e==null"}],"mark":{"type":"point","shape":"circle","filled":true,"size":26,"strokeWidth":0.9,"opacity":1},"encoding":{"fill":{"field":"s","type":"nominal","title":null,"scale":{"domain":["Mild","Moderate","Severe"],"range":["white","#9a9a9a","black"]}},"stroke":{"field":"s","type":"nominal","title":null,"scale":{"domain":["Mild","Moderate","Severe"],"range":["#444444","#707070","black"]}}}},{"transform":[{"filter":"datum.e!=null"}],"mark":{"type":"errorbar","ticks":true,"size":9,"thickness":1,"color":"#333333"},"encoding":{"yError":{"field":"e"}}}]},
 {"width":92,"height":135,"transform":[{"filter":"datum.k==14"}],"encoding":{"x":{"field":"x","type":"quantitative","scale":{"domain":[0.38,3.62]},"title":null},"y":{"field":"v","type":"quantitative","scale":{"domain":[0,5,5.01,50],"range":[135,68.5,64,0]},"axis":{"values":[0,1,2,3,4,5,10,20,30,40,50],"domain":false,"titleFontSize":13,"labelFontWeight":"normal"},"title":"IP-10 (pg/mL)"}},
  "layer":[{"transform":[{"filter":"datum.e!=null && datum.g==1"}],"mark":{"type":"rule","color":"black","strokeWidth":1.2},"encoding":{"x":{"datum":0.38},"y":{"datum":0},"y2":{"datum":5}}},{"transform":[{"filter":"datum.e!=null && datum.g==1"}],"mark":{"type":"rule","color":"black","strokeWidth":1.2},"encoding":{"x":{"datum":0.38},"y":{"datum":5.01},"y2":{"datum":50}}},{"transform":[{"filter":"datum.e!=null"}],"mark":{"type":"bar","orient":"vertical","size":19,"fill":"white","stroke":"#a8a8a8","strokeWidth":1}},{"transform":[{"filter":"datum.e==null"}],"mark":{"type":"point","shape":"circle","filled":true,"size":26,"strokeWidth":0.9,"opacity":1},"encoding":{"fill":{"field":"s","type":"nominal","title":null,"scale":{"domain":["Mild","Moderate","Severe"],"range":["white","#9a9a9a","black"]}},"stroke":{"field":"s","type":"nominal","title":null,"scale":{"domain":["Mild","Moderate","Severe"],"range":["#444444","#707070","black"]}}}},{"transform":[{"filter":"datum.e!=null"}],"mark":{"type":"errorbar","ticks":true,"size":9,"thickness":1,"color":"#333333"},"encoding":{"yError":{"field":"e"}}}]},
 {"width":92,"height":135,"transform":[{"filter":"datum.k==15"}],"encoding":{"x":{"field":"x","type":"quantitative","scale":{"domain":[0.38,3.62]},"title":null},"y":{"field":"v","type":"quantitative","scale":{"domain":[0,150]},"axis":{"values":[0,50,100,150],"titleFontSize":13,"labelFontWeight":"normal"},"title":"MCP-1 (pg/mL)"}},
  "layer":[{"transform":[{"filter":"datum.e!=null"}],"mark":{"type":"bar","orient":"vertical","size":19,"fill":"white","stroke":"#a8a8a8","strokeWidth":1}},{"transform":[{"filter":"datum.e==null"}],"mark":{"type":"point","shape":"circle","filled":true,"size":26,"strokeWidth":0.9,"opacity":1},"encoding":{"fill":{"field":"s","type":"nominal","title":null,"scale":{"domain":["Mild","Moderate","Severe"],"range":["white","#9a9a9a","black"]}},"stroke":{"field":"s","type":"nominal","title":null,"scale":{"domain":["Mild","Moderate","Severe"],"range":["#444444","#707070","black"]}}}},{"transform":[{"filter":"datum.e!=null"}],"mark":{"type":"errorbar","ticks":true,"size":9,"thickness":1,"color":"#333333"},"encoding":{"yError":{"field":"e"}}}]},
 {"width":92,"height":135,"transform":[{"filter":"datum.k==16"}],"encoding":{"x":{"field":"x","type":"quantitative","scale":{"domain":[0.38,3.62]},"title":null},"y":{"field":"v","type":"quantitative","scale":{"domain":[0,20,20.01,150],"range":[135,69.5,64,0]},"axis":{"values":[0,5,10,15,20,50,100,150],"domain":false,"titleFontSize":13,"labelFontWeight":"normal"},"title":"MIP-1α (pg/mL)"}},
  "layer":[{"transform":[{"filter":"datum.e!=null && datum.g==1"}],"mark":{"type":"rule","color":"black","strokeWidth":1.2},"encoding":{"x":{"datum":0.38},"y":{"datum":0},"y2":{"datum":20}}},{"transform":[{"filter":"datum.e!=null && datum.g==1"}],"mark":{"type":"rule","color":"black","strokeWidth":1.2},"encoding":{"x":{"datum":0.38},"y":{"datum":20.01},"y2":{"datum":150}}},{"transform":[{"filter":"datum.e!=null"}],"mark":{"type":"bar","orient":"vertical","size":19,"fill":"white","stroke":"#a8a8a8","strokeWidth":1}},{"transform":[{"filter":"datum.e==null"}],"mark":{"type":"point","shape":"circle","filled":true,"size":26,"strokeWidth":0.9,"opacity":1},"encoding":{"fill":{"field":"s","type":"nominal","title":null,"scale":{"domain":["Mild","Moderate","Severe"],"range":["white","#9a9a9a","black"]}},"stroke":{"field":"s","type":"nominal","title":null,"scale":{"domain":["Mild","Moderate","Severe"],"range":["#444444","#707070","black"]}}}},{"transform":[{"filter":"datum.e!=null"}],"mark":{"type":"errorbar","ticks":true,"size":9,"thickness":1,"color":"#333333"},"encoding":{"yError":{"field":"e"}}}]},
 {"width":92,"height":135,"transform":[{"filter":"datum.k==17"}],"encoding":{"x":{"field":"x","type":"quantitative","scale":{"domain":[0.38,3.62]},"title":null},"y":{"field":"v","type":"quantitative","scale":{"domain":[0,100]},"axis":{"values":[0,20,40,60,80,100],"titleFontSize":12.5,"labelFontWeight":"normal"},"title":"MIP-1β (pg/mL)"}},
  "layer":[{"transform":[{"filter":"datum.e!=null"}],"mark":{"type":"bar","orient":"vertical","size":19,"fill":"white","stroke":"#a8a8a8","strokeWidth":1}},{"transform":[{"filter":"datum.e==null"}],"mark":{"type":"point","shape":"circle","filled":true,"size":26,"strokeWidth":0.9,"opacity":1},"encoding":{"fill":{"field":"s","type":"nominal","title":null,"scale":{"domain":["Mild","Moderate","Severe"],"range":["white","#9a9a9a","black"]}},"stroke":{"field":"s","type":"nominal","title":null,"scale":{"domain":["Mild","Moderate","Severe"],"range":["#444444","#707070","black"]}}}},{"transform":[{"filter":"datum.e!=null"}],"mark":{"type":"errorbar","ticks":true,"size":9,"thickness":1,"color":"#333333"},"encoding":{"yError":{"field":"e"}}}]},
 {"width":92,"height":135,"transform":[{"filter":"datum.k==18"}],"encoding":{"x":{"field":"x","type":"quantitative","scale":{"domain":[0.38,3.62]},"title":null},"y":{"field":"v","type":"quantitative","scale":{"domain":[0,50]},"axis":{"values":[0,10,20,30,40,50],"titleFontSize":12.5,"labelFontWeight":"normal"},"title":"MCP-4 (pg/mL)"}},
  "layer":[{"transform":[{"filter":"datum.e!=null"}],"mark":{"type":"bar","orient":"vertical","size":19,"fill":"white","stroke":"#a8a8a8","strokeWidth":1}},{"transform":[{"filter":"datum.e==null"}],"mark":{"type":"point","shape":"circle","filled":true,"size":26,"strokeWidth":0.9,"opacity":1},"encoding":{"fill":{"field":"s","type":"nominal","title":null,"scale":{"domain":["Mild","Moderate","Severe"],"range":["white","#9a9a9a","black"]}},"stroke":{"field":"s","type":"nominal","title":null,"scale":{"domain":["Mild","Moderate","Severe"],"range":["#444444","#707070","black"]}}}},{"transform":[{"filter":"datum.e!=null"}],"mark":{"type":"errorbar","ticks":true,"size":9,"thickness":1,"color":"#333333"},"encoding":{"yError":{"field":"e"}}}]}
],"spacing":37,"bounds":"flush"}
],"spacing":44.9}
]
}
